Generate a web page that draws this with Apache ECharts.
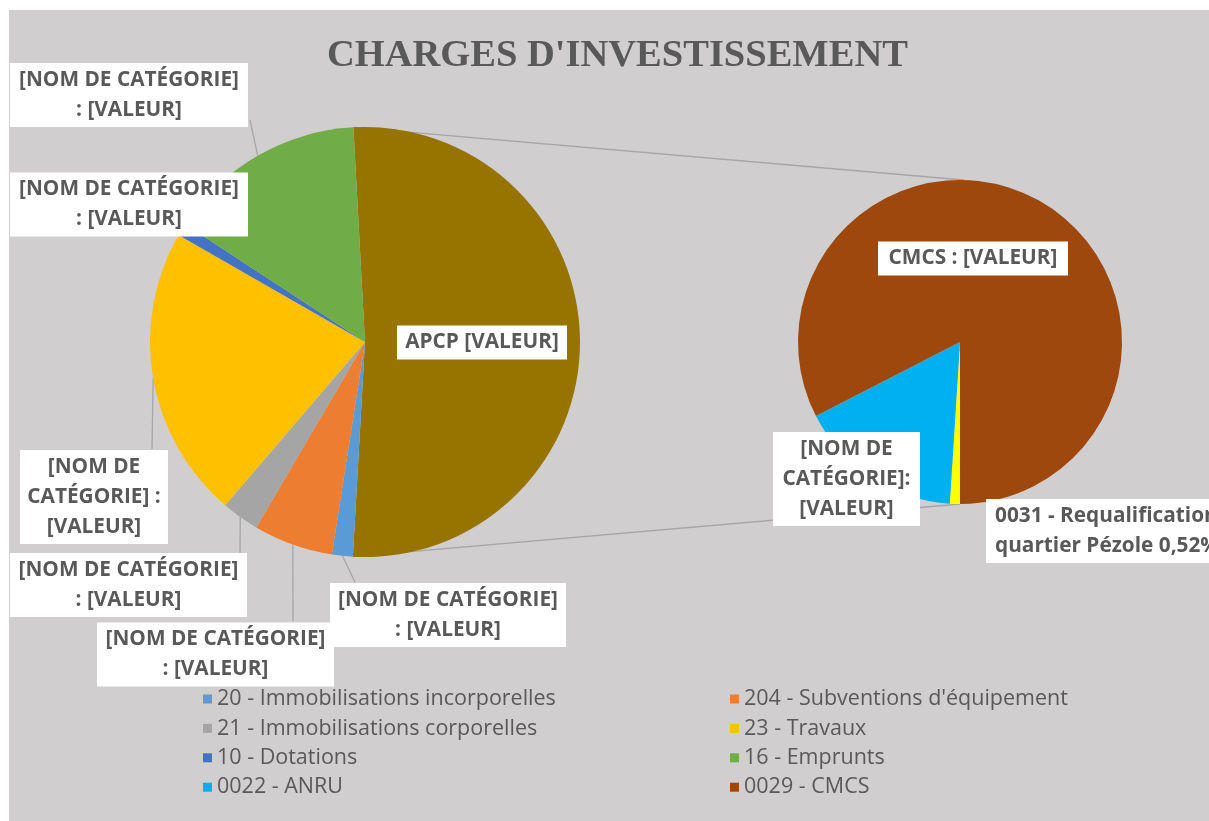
<!DOCTYPE html>
<html>
<head>
<meta charset="utf-8">
<script src="https://cdn.jsdelivr.net/npm/echarts@6/dist/echarts.min.js"></script>
<style>
  html, body { margin: 0; padding: 0; background: #ffffff; }
  #chart { position: absolute; left: 9px; top: 10px; width: 1200px; height: 811px; }
</style>
</head>
<body>
<div id="chart"></div>
<script>
// ---------- DATA ----------
const TITLE = "CHARGES D'INVESTISSEMENT";

// Main pie (the "APCP" slice is the aggregate shown in the second pie)
const MAIN_CATEGORIES = [
  'APCP',
  '20 - Immobilisations incorporelles',
  "204 - Subventions d'équipement",
  '21 - Immobilisations corporelles',
  '23 - Travaux',
  '10 - Dotations',
  '16 - Emprunts'
];
const MAIN_VALUES = [null, 1.56, 5.97, 2.83, 22.0, 0.94, 14.9]; // APCP = sum of SUB_VALUES

// Second pie (breakdown of APCP)
const SUB_CATEGORIES = [
  '0031 - Requalification quartier Pézole',
  '0022 - ANRU',
  '0029 - CMCS'
];
const SUB_VALUES = [0.52, 8.5, 42.7];

const LEGEND_LEFT = ['20 - Immobilisations incorporelles', '21 - Immobilisations corporelles', '10 - Dotations', '0022 - ANRU'];
const LEGEND_RIGHT = ["204 - Subventions d'équipement", '23 - Travaux', '16 - Emprunts', '0029 - CMCS'];

const LABEL_TEXTS = {
  'APCP': 'APCP [VALEUR]',
  '20 - Immobilisations incorporelles': '[NOM DE CATÉGORIE]\n: [VALEUR]',
  "204 - Subventions d'équipement": '[NOM DE CATÉGORIE]\n: [VALEUR]',
  '21 - Immobilisations corporelles': '[NOM DE CATÉGORIE]\n: [VALEUR]',
  '23 - Travaux': '[NOM DE\nCATÉGORIE] :\n[VALEUR]',
  '10 - Dotations': '[NOM DE CATÉGORIE]\n: [VALEUR]',
  '16 - Emprunts': '[NOM DE CATÉGORIE]\n: [VALEUR]',
  '0022 - ANRU': '[NOM DE\nCATÉGORIE]:\n[VALEUR]',
  '0029 - CMCS': 'CMCS : [VALEUR]'
};

// ---------- STYLE / LAYOUT ----------
const COLORS = {
  'APCP': '#977300',
  '20 - Immobilisations incorporelles': '#5B9BD5',
  "204 - Subventions d'équipement": '#ED7D31',
  '21 - Immobilisations corporelles': '#A5A5A5',
  '23 - Travaux': '#FFC000',
  '10 - Dotations': '#4472C4',
  '16 - Emprunts': '#70AD47',
  '0031 - Requalification quartier Pézole': '#FFFF00',
  '0022 - ANRU': '#00B0F0',
  '0029 - CMCS': '#9E480E'
};
const OX = 9, OY = 10; // chart div offset in page
const MAIN_GEOM = { cx: 365 - OX, cy: 342 - OY, r: 215, start: 93.1 };
const SUB_GEOM  = { cx: 960 - OX, cy: 342 - OY, r: 162, start: -90 };

// label box centre (page coords), content width, and label-side point of the leader line
const LABEL_LAYOUT = {
  'APCP': { x: 482, y: 342.5, w: 162 },
  '20 - Immobilisations incorporelles': { x: 448, y: 615, w: 228, line: [355, 582] },
  "204 - Subventions d'équipement": { x: 215.5, y: 654.5, w: 229, line: [293, 621] },
  '21 - Immobilisations corporelles': { x: 128.5, y: 585, w: 229, line: [240, 553] },
  '23 - Travaux': { x: 94, y: 497, w: 140, line: [152, 449] },
  '10 - Dotations': { x: 129, y: 204.5, w: 230 },
  '16 - Emprunts': { x: 129, y: 95, w: 230, line: [250, 120] },
  '0022 - ANRU': { x: 846.5, y: 479, w: 139 },
  '0029 - CMCS': { x: 973, y: 258.5, w: 182 },
  '0031 - Requalification quartier Pézole': { x: 986, y: 531, w: 240, left: true }
};

const TEXT_COLOR = '#595959';
const LINE_COLOR = '#A6A6A6';

// ---------- BUILD ----------
const subTotal = SUB_VALUES.reduce((a, b) => a + b, 0);
const mainValues = MAIN_VALUES.map((v, i) => (i === 0 ? subTotal : v));
const mainTotal = mainValues.reduce((a, b) => a + b, 0);

function angleAt(values, cumUnits, g) {
  const tot = values.reduce((a, b) => a + b, 0);
  const theta = (90 - g.start) + cumUnits / tot * 360; // deg from 12 o'clock, clockwise
  const t = theta * Math.PI / 180;
  return [g.cx + g.r * Math.sin(t), g.cy - g.r * Math.cos(t)];
}
function midPoint(values, idx, g) {
  let cum = 0;
  for (let i = 0; i < idx; i++) cum += values[i];
  return angleAt(values, cum + values[idx] / 2, g);
}
function edgePoint(values, idx, g) {
  let cum = 0;
  for (let i = 0; i < idx; i++) cum += values[i];
  return angleAt(values, cum, g);
}

function labelText(name, value) {
  if (LABEL_TEXTS[name]) return LABEL_TEXTS[name];
  const pct = (value / mainTotal * 100).toFixed(2).replace('.', ',');
  return '0031 - Requalification\nquartier Pézole ' + pct + '%';
}

function makeData(cats, vals) {
  return cats.map((name, i) => {
    const lay = LABEL_LAYOUT[name];
    return {
      name: name,
      value: vals[i],
      itemStyle: { color: COLORS[name] },
      label: {
        width: lay.w,
        overflow: 'none',
        align: lay.left ? 'left' : 'center',
        padding: lay.left ? [2, 9, 2, 9] : [2, 4, 2, 4]
      },
      labelLine: { show: !!lay.line }
    };
  });
}

const labelCommon = {
  show: true,
  position: 'outside',
  color: TEXT_COLOR,
  fontFamily: 'Open Sans',
  fontWeight: 'bold',
  fontSize: 20.8,
  lineHeight: 30,
  backgroundColor: '#ffffff',
  formatter: p => labelText(p.name, p.value)
};

function layoutFor(cats, vals, g) {
  return function (params) {
    const name = cats[params.dataIndex];
    const lay = LABEL_LAYOUT[name];
    const res = {
      x: lay.x - OX,
      y: lay.y - OY,
      align: lay.left ? 'left' : 'center',
      verticalAlign: 'middle'
    };
    if (lay.line) {
      const p = midPoint(vals, params.dataIndex, g);
      const q = [lay.line[0] - OX, lay.line[1] - OY];
      res.labelLinePoints = [p, q, q];
    }
    return res;
  };
}

// connector lines between the APCP slice and the second pie
const topStart = edgePoint(mainValues, 0, MAIN_GEOM);
const botStart = edgePoint(mainValues, 1, MAIN_GEOM);
const topEnd = [SUB_GEOM.cx + 4, SUB_GEOM.cy - SUB_GEOM.r];
const botEnd = [SUB_GEOM.cx, SUB_GEOM.cy + SUB_GEOM.r];

const chart = echarts.init(document.getElementById('chart'), null, { renderer: 'canvas' });

const legendCommon = {
  orient: 'vertical',
  top: 688 - OY,
  padding: 0,
  icon: 'rect',
  itemWidth: 9,
  itemHeight: 9,
  itemGap: 7.4,
  selectedMode: false,
  textStyle: { fontFamily: 'Open Sans', fontSize: 21.5, lineHeight: 21, color: TEXT_COLOR }
};

chart.setOption({
  animation: false,
  backgroundColor: '#D0CECE',
  title: {
    text: TITLE,
    left: 327 - OX,
    top: 37 - OY,
    padding: 0,
    textStyle: { fontFamily: 'Liberation Serif', fontWeight: 'bold', fontSize: 38.5, color: TEXT_COLOR }
  },
  legend: [
    Object.assign({ data: LEGEND_LEFT, left: 203 - OX }, legendCommon),
    Object.assign({ data: LEGEND_RIGHT, left: 730 - OX }, legendCommon)
  ],
  graphic: {
    elements: [
      { type: 'line', z: -10, silent: true, shape: { x1: topStart[0], y1: topStart[1], x2: topEnd[0], y2: topEnd[1] }, style: { stroke: LINE_COLOR, lineWidth: 1.3 } },
      { type: 'line', z: -10, silent: true, shape: { x1: botStart[0], y1: botStart[1], x2: botEnd[0], y2: botEnd[1] }, style: { stroke: LINE_COLOR, lineWidth: 1.3 } }
    ]
  },
  series: [
    {
      type: 'pie',
      name: 'main',
      center: [MAIN_GEOM.cx, MAIN_GEOM.cy],
      radius: MAIN_GEOM.r,
      startAngle: MAIN_GEOM.start,
      clockwise: true,
      avoidLabelOverlap: false,
      silent: true,
      z: 5,
      itemStyle: { borderWidth: 0 },
      label: labelCommon,
      labelLine: { show: true, lineStyle: { color: LINE_COLOR, width: 1.3 } },
      labelLayout: layoutFor(MAIN_CATEGORIES, mainValues, MAIN_GEOM),
      data: makeData(MAIN_CATEGORIES, mainValues)
    },
    {
      type: 'pie',
      name: 'sub',
      center: [SUB_GEOM.cx, SUB_GEOM.cy],
      radius: SUB_GEOM.r,
      startAngle: SUB_GEOM.start,
      clockwise: true,
      avoidLabelOverlap: false,
      silent: true,
      z: 5,
      itemStyle: { borderWidth: 0 },
      label: labelCommon,
      labelLine: { show: true, lineStyle: { color: LINE_COLOR, width: 1.3 } },
      labelLayout: layoutFor(SUB_CATEGORIES, SUB_VALUES, SUB_GEOM),
      data: makeData(SUB_CATEGORIES, SUB_VALUES)
    }
  ]
});
</script>
</body>
</html>
